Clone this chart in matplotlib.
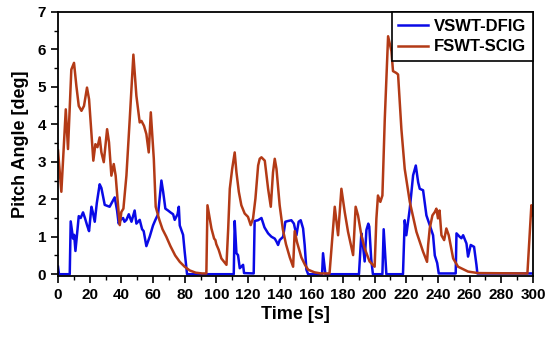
import matplotlib
matplotlib.use('Agg')
import matplotlib.pyplot as plt
from matplotlib.ticker import MultipleLocator

# VSWT-DFIG pitch angle (blue)
dfig_t = [0, 0.6, 7.4, 8.0, 9.5, 10.2, 11.0, 13.1, 14.3, 15.8, 17.0, 18.4, 19.6, 21.1, 22.0,
          23.2, 24.5, 26.3, 27.4, 29.5, 32.6, 34.5, 35.8, 37.3, 38.3, 39.5, 41.1, 42.0, 43.2,
          44.7, 46.4, 48.4, 49.5, 51.6, 53.1, 54.1, 55.8, 57.9, 60.0, 61.5, 63.2, 65.3, 66.4,
          67.8, 69.5, 71.0, 72.7, 73.7, 75.5, 76.3, 76.9, 79.0, 80.0, 81.5, 111.0, 111.6,
          112.7, 113.7, 114.8, 116.9, 117.5, 123.6, 124.2, 126.3, 128.5, 130.4, 132.7, 134.8,
          136.9, 138, 139, 140, 142.2, 143.6, 145.3, 147.4, 149, 150.6, 152, 153.3, 154.8,
          155.8, 156.9, 158, 166.8, 167.4, 168.9, 190.1, 191.6, 192.6, 193.7, 194.8, 196.0,
          196.6, 197.8, 198.9, 204.9, 205.7, 207.4, 217.9, 219, 220, 222.2, 224.3, 226, 227.5,
          228.5, 230.6, 232.7, 234.8, 236.9, 238, 239.5, 240.5, 251.2, 251.7, 253.7, 254.8,
          255.9, 258, 259, 260.7, 262.8, 264.3, 264.9, 300]
dfig_v = [0.2, 0, 0, 1.41, 0.95, 1.05, 0.62, 1.55, 1.5, 1.65, 1.5, 1.3, 1.15, 1.8, 1.65,
          1.4, 1.9, 2.4, 2.3, 1.85, 1.8, 1.95, 2.05, 1.7, 1.35, 1.45, 1.5, 1.4, 1.45,
          1.6, 1.4, 1.7, 1.35, 1.45, 1.2, 1.15, 0.75, 1.0, 1.3, 1.45, 1.6, 2.5, 2.2,
          1.75, 1.7, 1.65, 1.6, 1.45, 1.6, 1.8, 1.3, 1.05, 0.6, 0.0, 0, 1.42,
          0.56, 0.51, 0.16, 0.25, 0.03, 0.02, 1.42, 1.44, 1.5, 1.25, 1.09, 1.0,
          0.95, 0.87, 0.78, 0.91, 1.0, 1.4, 1.42, 1.44, 1.35, 1.04, 1.4, 1.44, 1.22,
          0.78, 0.12, 0, 0, 0.56, 0, 0, 1.09, 0.78, 0.34, 1.18, 1.35,
          1.27, 0.42, 0, 0, 1.2, 0, 0, 1.44, 1.04, 1.75, 2.64, 2.9, 2.45,
          2.28, 2.24, 1.57, 1.31, 1.04, 0.5, 0.3, 0.02, 0.02, 1.09, 1.0, 0.96,
          1.04, 0.82, 0.47, 0.78, 0.73, 0.25, 0.02, 0.02]

# FSWT-SCIG pitch angle (red)
scig_t = [0, 2.1, 4.9, 6.3, 8.4, 10.1, 11.6, 13.1, 14.8, 16.4, 18.3, 19.6, 21.1, 22.3, 23.6,
          24.9, 26.3, 27.4, 28.9, 31.0, 32.2, 33.7, 35.2, 36.4, 37.9, 39.0, 40.0, 41.3, 43.2,
          45.3, 47.6, 49.5, 51.6, 52.7, 54.3, 55.8, 57.3, 58.6, 60.5, 61.7, 64, 66, 68.4, 71,
          74, 76.9, 80, 83.2, 87, 91, 93.7, 94.4, 96.9, 98.6, 99.4, 100.0, 101.5, 103.2,
          106.4, 107.5, 108.5, 110, 111.6, 112.7, 114.2, 115.8, 117.9, 120, 121.7, 123.2,
          124.7, 126.4, 127.4, 128.5, 130.6, 132.7, 134.4, 135.8, 136.9, 138, 140, 142, 144,
          146.4, 148.5, 149.5, 151, 153.7, 156, 158, 162, 166, 171.5, 174.8, 176.9, 179,
          181.1, 183.2, 186.4, 188, 189.5, 191.6, 193.7, 196.8, 200, 201.1, 202.1, 203.6,
          204.9, 206.4, 208.5, 210.6, 211.6, 213.7, 214.8, 216.9, 219, 222.2, 226.4, 230.6,
          233.1, 233.8, 234.8, 236.5, 238, 239, 240, 241, 242.2, 243.9, 245.3, 246.8, 249.6,
          252.7, 259, 265.4, 296.5, 299, 300]
scig_v = [3.3, 2.2, 4.4, 3.34, 5.46, 5.64, 5.02, 4.49, 4.36, 4.49, 4.98, 4.67, 3.78, 3.03, 3.47,
          3.39, 3.65, 3.25, 2.99, 3.87, 3.52, 2.63, 2.94, 2.63, 1.84, 1.31, 1.66, 1.75, 2.63,
          4.14, 5.86, 4.76, 4.05, 4.09, 3.96, 3.74, 3.25, 4.32, 3.08, 1.8, 1.45, 1.2, 1.0, 0.75,
          0.5, 0.33, 0.2, 0.1, 0.04, 0.02, 0.02, 1.84, 1.22, 0.95, 0.91, 0.8, 0.65, 0.42,
          0.25, 1.22, 2.28, 2.81, 3.25, 2.72, 2.2, 1.84, 1.62, 1.53, 1.31, 1.49,
          2.02, 2.9, 3.08, 3.12, 3.03, 2.28, 1.8, 2.72, 3.08, 2.81, 1.84, 1.2, 0.8,
          0.45, 0.2, 1.15, 0.85, 0.45, 0.25, 0.12, 0.05, 0.02, 0.02, 1.8, 1.04, 2.28,
          1.66, 1.13, 0.51, 1.8, 1.57, 1.04, 0.69, 0.34, 0.2, 1.48, 2.1, 1.93,
          2.1, 4.14, 6.35, 5.95, 5.42, 5.37, 5.33, 3.87, 2.81, 1.93, 1.13, 0.6,
          0.33, 0.78, 1.22, 1.57, 1.66, 1.75, 1.49, 1.7, 1.04, 0.91, 1.22, 1.04, 0.42,
          0.2, 0.07, 0.03, 0.02, 1.84, 1.57]

plt.rcParams['font.family'] = ['Liberation Sans', 'DejaVu Sans']
plt.rcParams['font.weight'] = 'bold'

fig = plt.figure(figsize=(5.5, 3.4), dpi=100)
ax = fig.add_axes([0.1055, 0.188, 0.8635, 0.777])

ax.plot(dfig_t, dfig_v, color='#0a0ae6', lw=1.8, label='VSWT-DFIG')
ax.plot(scig_t, scig_v, color='#b33a16', lw=1.8, label='FSWT-SCIG')

ax.set_xlim(0, 300)
ax.set_ylim(-0.05, 7)
ax.xaxis.set_major_locator(MultipleLocator(20))
ax.xaxis.set_minor_locator(MultipleLocator(10))
ax.yaxis.set_major_locator(MultipleLocator(1))
ax.yaxis.set_minor_locator(MultipleLocator(0.5))
ax.tick_params(which='major', direction='out', length=5, width=1.2, labelsize=11)
ax.tick_params(which='minor', direction='out', length=3, width=1.0)
for s in ax.spines.values():
    s.set_linewidth(1.3)

ax.set_xlabel('Time [s]', fontsize=13, fontweight='bold', labelpad=3)
ax.set_ylabel('Pitch Angle [deg]', fontsize=13, fontweight='bold', labelpad=6)

leg = ax.legend(loc='upper right', fontsize=12, frameon=True, fancybox=False,
                borderaxespad=0, handlelength=1.8, handletextpad=0.35,
                borderpad=0.4, labelspacing=0.35)
leg.get_frame().set_edgecolor('black')
leg.get_frame().set_linewidth(1.2)
leg.get_frame().set_alpha(1)

fig.savefig('out.png', dpi=100)
